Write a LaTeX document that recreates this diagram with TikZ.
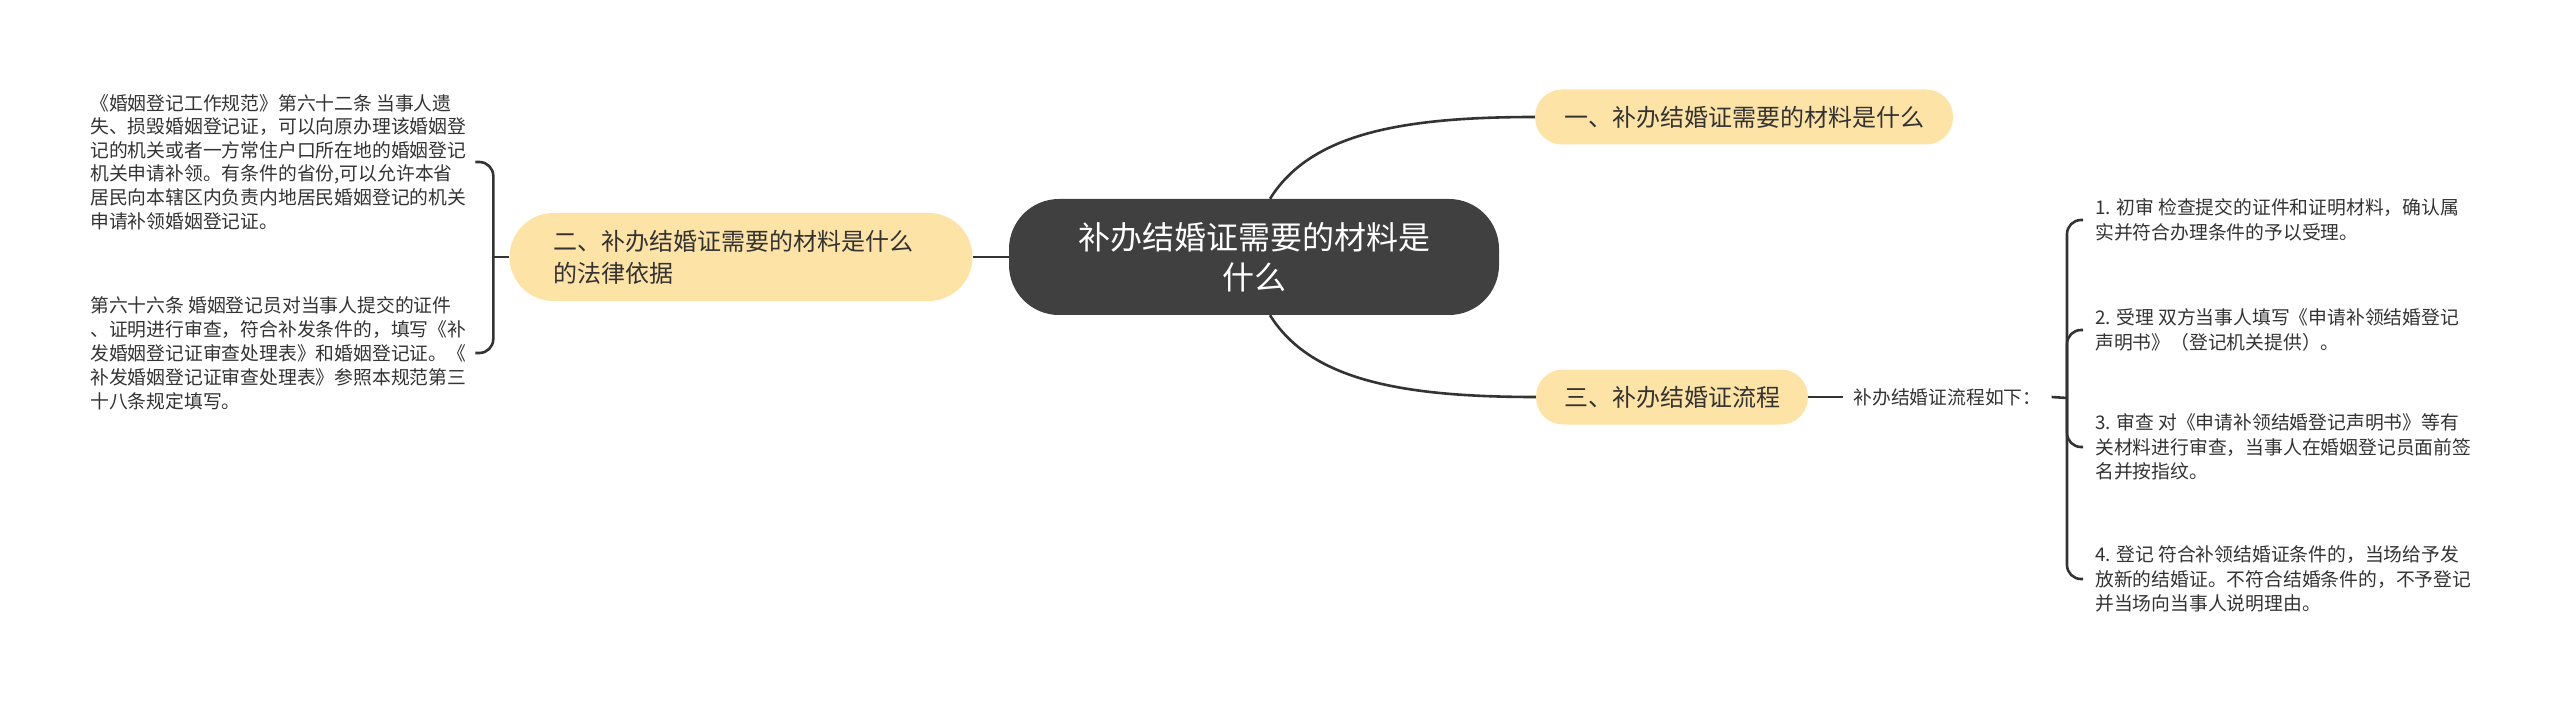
\documentclass[tikz,border=0pt]{standalone}
\usepackage{fontspec}
\setmainfont{Noto Sans CJK SC}
\usetikzlibrary{positioning}
\definecolor{rootfill}{HTML}{404040}
\definecolor{topicfill}{HTML}{FEE3A6}
\definecolor{inkdark}{HTML}{333333}

\begin{document}
\begin{tikzpicture}[
  x=1pt, y=-1pt,
  root/.style={fill=rootfill, text=white, rounded corners=50pt, align=center, minimum width=490pt, minimum height=116pt, font=\fontsize{32pt}{40pt}\selectfont},
  topic/.style={fill=topicfill, text=inkdark, rounded corners=27pt, minimum height=55pt, font=\fontsize{24pt}{32pt}\selectfont},
  leaf/.style={text=inkdark, align=left, inner sep=0pt, font=\fontsize{18.8pt}{24pt}\selectfont},
  link/.style={draw=inkdark, line width=2.6pt},
]
\useasboundingbox (0,0) rectangle (2560,703);
\node[root] (root) at (1254,257) {补办结婚证需要的材料是\\什么};
\node[topic, minimum width=418pt] (need) at (1744,117) {一、补办结婚证需要的材料是什么};
\node[topic, minimum width=463pt, minimum height=88pt, rounded corners=44pt, text width=376pt, align=left] (basis) at (741,257) {二、补办结婚证需要的材料是什么\\的法律依据};
\node[topic, minimum width=272pt] (flow) at (1672,397) {三、补办结婚证流程};
% left leaves
\node[leaf, anchor=west, font=\fontsize{18.8pt}{23.6pt}\selectfont] (law1) at (90,162) {《婚姻登记工作规范》第六十二条 当事人遗\\失、损毁婚姻登记证，可以向原办理该婚姻登\\记的机关或者一方常住户口所在地的婚姻登记\\机关申请补领。有条件的省份,可以允许本省\\居民向本辖区内负责内地居民婚姻登记的机关\\申请补领婚姻登记证。};
\node[leaf, anchor=west] (law2) at (90,353) {第六十六条 婚姻登记员对当事人提交的证件\\、证明进行审查，符合补发条件的，填写《补\\发婚姻登记证审查处理表》和婚姻登记证。《\\补发婚姻登记证审查处理表》参照本规范第三\\十八条规定填写。};
% right leaves
\node[leaf, inner sep=10pt, right=35pt of flow] (steps) {补办结婚证流程如下：};
\node[leaf, anchor=west, font=\fontsize{18.8pt}{24.5pt}\selectfont] (s1) at (2095,220) {1. 初审 检查提交的证件和证明材料，确认属\\实并符合办理条件的予以受理。};
\node[leaf, anchor=west, font=\fontsize{18.8pt}{24.5pt}\selectfont] (s2) at (2095,330) {2. 受理 双方当事人填写《申请补领结婚登记\\声明书》（登记机关提供）。};
\node[leaf, anchor=west, font=\fontsize{18.8pt}{24.5pt}\selectfont] (s3) at (2095,447) {3. 审查 对《申请补领结婚登记声明书》等有\\关材料进行审查，当事人在婚姻登记员面前签\\名并按指纹。};
\node[leaf, anchor=west, font=\fontsize{18.8pt}{24.5pt}\selectfont] (s4) at (2095,579) {4. 登记 符合补领结婚证条件的，当场给予发\\放新的结婚证。不符合结婚条件的，不予登记\\并当场向当事人说明理由。};
\coordinate[left=16pt of basis] (lb);
\coordinate (rb) at (2067,398);

\draw[link] ([xshift=16pt]root.north) .. controls +(40,-64) and +(-137,0) .. (need.west);
\draw[link] ([xshift=16pt]root.south) .. controls +(40,64) and +(-137,0) .. (flow.west);
\draw[link] (root.west) -- (basis.east);
\draw[link] (basis.west) -- (lb);
\draw[link, rounded corners=14pt] (lb) |- ([xshift=9pt]law1.east);
\draw[link, rounded corners=14pt] (lb) |- ([xshift=9pt]law2.east);
\draw[link] (flow.east) -- (steps.west);
\draw[link] (steps.east) -- (rb);
\draw[link, rounded corners=14pt] (rb) |- ([xshift=-12pt]s1.west);
\draw[link, rounded corners=14pt] (rb) |- ([xshift=-12pt]s2.west);
\draw[link, rounded corners=14pt] (rb) |- ([xshift=-12pt]s3.west);
\draw[link, rounded corners=14pt] (rb) |- ([xshift=-12pt]s4.west);
\end{tikzpicture}
\end{document}
